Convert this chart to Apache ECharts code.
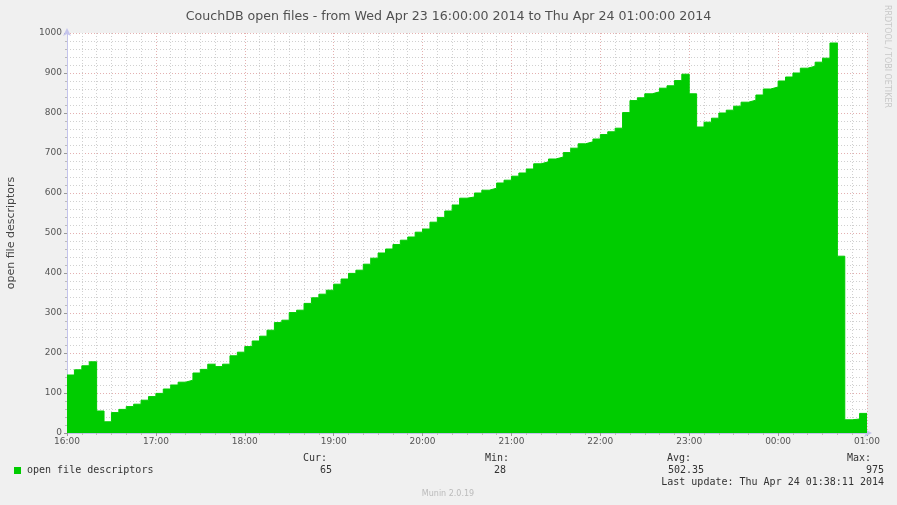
<!DOCTYPE html>
<html>
<head>
<meta charset="utf-8">
<script src="https://cdn.jsdelivr.net/npm/echarts@6/dist/echarts.min.js"></script>
<style>
  html, body { margin: 0; padding: 0; background: #f0f0f0; }
  #chart { width: 897px; height: 505px; }
</style>
</head>
<body>
<div id="chart"></div>
<script>
// 5-minute samples starting at 16:00
var startLabel = "16:00";
var stepMinutes = 5;
var values = [
  145, 158, 168, 178, 55, 28, 51, 59, 66, 72, 82, 91, 99, 110, 120, 127, 132, 150, 159, 172,
  166, 172, 193, 202, 216, 230, 242, 257, 276, 282, 301, 307, 324, 338, 347, 357, 372, 385, 399, 407,
  422, 437, 450, 460, 471, 482, 490, 502, 510, 527, 539, 555, 570, 587, 590, 600, 607, 612, 625, 632,
  642, 650, 660, 673, 678, 685, 690, 701, 712, 723, 728, 735, 746, 753, 762, 801, 831, 838, 848, 853,
  862, 868, 881, 897, 848, 765, 777, 787, 800, 807, 817, 827, 832, 845, 860, 865, 880, 890, 900, 912,
  917, 927, 937, 975, 442, 33, 35, 49
];
var hourLabels = ["16:00", "17:00", "18:00", "19:00", "20:00", "21:00", "22:00", "23:00", "00:00", "01:00"];
var stats = { cur: "65", min: "28", avg: "502.35", max: "975" };

var points = values.map(function (v, i) { return [i * stepMinutes, v]; });
points.push([values.length * stepMinutes, values[values.length - 1]]);

var chart = echarts.init(document.getElementById("chart"));
var mono = "DejaVu Sans Mono";

var option = {
  backgroundColor: "#f0f0f0",
  animation: false,
  title: {
    text: "CouchDB open files - from Wed Apr 23 16:00:00 2014 to Thu Apr 24 01:00:00 2014",
    left: "center",
    top: 5,
    textStyle: { fontFamily: "DejaVu Sans", fontSize: 12.6, fontWeight: "normal", color: "#505050" }
  },
  grid: {
    left: 67, right: 30, top: 33, bottom: 72,
    outerBoundsMode: "none",
    containLabel: false,
    show: true, backgroundColor: "#ffffff", borderWidth: 0
  },
  xAxis: {
    type: "value",
    min: 0,
    max: 540,
    interval: 60,
    axisLabel: {
      color: "#555", fontFamily: "DejaVu Sans", fontSize: 9, margin: 4,
      formatter: function (v) { return hourLabels[v / 60]; }
    },
    axisLine: { show: true, lineStyle: { color: "#c4c4ec" }, symbol: ["none", "arrow"], symbolSize: [6, 8], symbolOffset: [0, 5] },
    axisTick: { show: true, length: 3, lineStyle: { color: "#999" } },
    splitLine: { show: true, lineStyle: { color: "#e4b0b0", type: [1, 2] } },
    minorTick: { show: true, splitNumber: 6, length: 2, lineStyle: { color: "#bbb" } },
    minorSplitLine: { show: true, lineStyle: { color: "#d0d0d0", type: [1, 2] } }
  },
  yAxis: {
    type: "value",
    min: 0,
    max: 1000,
    interval: 100,
    name: "open file descriptors",
    nameLocation: "middle",
    nameGap: 50,
    nameTextStyle: { color: "#444", fontFamily: "DejaVu Sans", fontSize: 11 },
    axisLabel: { color: "#555", fontFamily: "DejaVu Sans", fontSize: 9, margin: 5, formatter: function (v) { return String(v); } },
    axisLine: { show: true, lineStyle: { color: "#c4c4ec" }, symbol: ["none", "arrow"], symbolSize: [6, 8], symbolOffset: [0, 5] },
    axisTick: { show: true, length: 3, lineStyle: { color: "#999" } },
    splitLine: { show: true, lineStyle: { color: "#e4b0b0", type: [1, 2] } },
    minorTick: { show: true, splitNumber: 5, length: 2, lineStyle: { color: "#bbb" } },
    minorSplitLine: { show: true, lineStyle: { color: "#d0d0d0", type: [1, 2] } }
  },
  series: [
    {
      name: "open file descriptors",
      type: "line",
      step: "end",
      symbol: "none",
      data: points,
      lineStyle: { color: "#00cc00", width: 1 },
      areaStyle: { color: "#00cc00", opacity: 1 },
      itemStyle: { color: "#00cc00" }
    }
  ],
  graphic: [
    {
      type: "text", left: 883, top: 5, rotation: -Math.PI / 2,
      style: { text: "RRDTOOL / TOBI OETIKER", fill: "#c8c8c8", font: "8px DejaVu Sans" }
    },
    { type: "rect", shape: { x: 14, y: 467, width: 7, height: 7 }, style: { fill: "#00cc00" } },
    { type: "text", x: 27, y: 470, style: { text: "open file descriptors", fill: "#333", font: "10px " + mono, textVerticalAlign: "middle" } },
    { type: "text", x: 303, y: 458, style: { text: "Cur:", fill: "#333", font: "10px " + mono, textVerticalAlign: "middle" } },
    { type: "text", x: 485, y: 458, style: { text: "Min:", fill: "#333", font: "10px " + mono, textVerticalAlign: "middle" } },
    { type: "text", x: 667, y: 458, style: { text: "Avg:", fill: "#333", font: "10px " + mono, textVerticalAlign: "middle" } },
    { type: "text", x: 847, y: 458, style: { text: "Max:", fill: "#333", font: "10px " + mono, textVerticalAlign: "middle" } },
    { type: "text", x: 332, y: 470, style: { text: stats.cur, fill: "#333", font: "10px " + mono, textAlign: "right", textVerticalAlign: "middle" } },
    { type: "text", x: 506, y: 470, style: { text: stats.min, fill: "#333", font: "10px " + mono, textAlign: "right", textVerticalAlign: "middle" } },
    { type: "text", x: 704, y: 470, style: { text: stats.avg, fill: "#333", font: "10px " + mono, textAlign: "right", textVerticalAlign: "middle" } },
    { type: "text", x: 884, y: 470, style: { text: stats.max, fill: "#333", font: "10px " + mono, textAlign: "right", textVerticalAlign: "middle" } },
    { type: "text", x: 884, y: 482, style: { text: "Last update: Thu Apr 24 01:38:11 2014", fill: "#333", font: "10px " + mono, textAlign: "right", textVerticalAlign: "middle" } },
    { type: "text", x: 448, y: 494, style: { text: "Munin 2.0.19", fill: "#bbbbbb", font: "8px DejaVu Sans", textAlign: "center", textVerticalAlign: "middle" } }
  ]
};

chart.setOption(option);
</script>
</body>
</html>
